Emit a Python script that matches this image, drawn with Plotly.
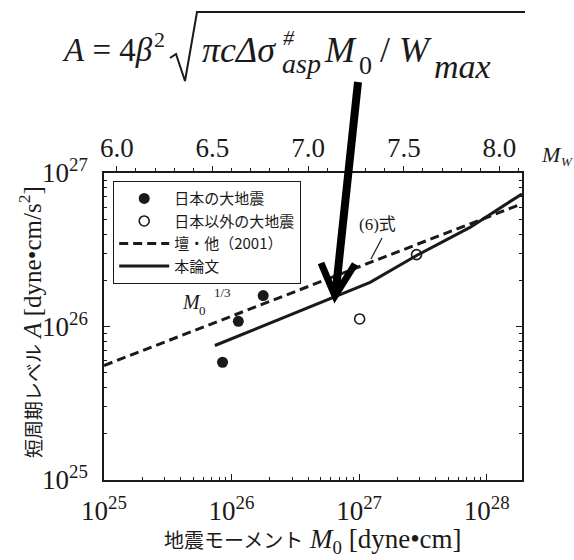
import plotly.graph_objects as go

# ---------------- data ----------------
japan_m0 = [8.5e25, 1.13e26, 1.77e26]          # 日本の大地震 (filled)
japan_a = [5.85e25, 1.08e26, 1.59e26]
foreign_m0 = [1.01e27, 2.82e27]                # 日本以外の大地震 (open)
foreign_a = [1.12e26, 2.94e26]
dan_m0 = [1.0e25, 1.89e28]                     # 壇・他 (2001) dashed
dan_a = [5.57e25, 6.3e26]
this_m0 = [7.4e25, 6.24e26, 1.22e27, 2.82e27, 7.40e27, 1.89e28]   # 本論文 solid
this_a = [7.52e25, 1.55e26, 1.94e26, 2.90e26, 4.42e26, 7.31e26]

legend_names = ["日本の大地震", "日本以外の大地震", "壇・他（2001）", "本論文"]

x_major = [1e25, 1e26, 1e27, 1e28]
x_major_text = ["10<sup>25</sup>", "10<sup>26</sup>", "10<sup>27</sup>", "10<sup>28</sup>"]
y_major = [1e25, 1e26, 1e27]
y_major_text = ["10<sup>25</sup>", "10<sup>26</sup>", "10<sup>27</sup>"]
mw_ticks = [6.0, 6.5, 7.0, 7.5, 8.0]
mw_text = ["6.0", "6.5", "7.0", "7.5", "8.0"]

LOG_X_RANGE = [25.0, 28.277]
LOG_Y_RANGE = [25.0, 27.0]

minor_x = [k * 10.0 ** e for e in range(25, 29) for k in range(2, 10)]
minor_y = [k * 10.0 ** e for e in range(25, 27) for k in range(2, 10)]

SERIF = "Liberation Serif, Noto Sans CJK JP, serif"
CJK = "Noto Sans CJK JP, sans-serif"
INK = "#1a1a1a"

# ---------------- layout geometry (pixels) ----------------
W_FIG, H_FIG = 574, 560
L, R, T, B = 104, 522, 173, 480
PW, PH = R - L, B - T


def px(x):
    return (x - L) / PW


def py(y):
    return (B - y) / PH


fig = go.Figure()

fig.add_trace(go.Scatter(
    x=japan_m0, y=japan_a, mode="markers", name=legend_names[0],
    marker=dict(symbol="circle", size=11, color=INK),
))
fig.add_trace(go.Scatter(
    x=foreign_m0, y=foreign_a, mode="markers", name=legend_names[1],
    marker=dict(symbol="circle-open", size=10, color=INK, line=dict(width=1.6, color=INK)),
))
fig.add_trace(go.Scatter(
    x=dan_m0, y=dan_a, mode="lines", name=legend_names[2],
    line=dict(color=INK, width=3, dash="9px,5px"),
))
fig.add_trace(go.Scatter(
    x=this_m0, y=this_a, mode="lines", name=legend_names[3],
    line=dict(color=INK, width=3),
))
# helper trace to carry the top Mw axis
fig.add_trace(go.Scatter(
    x=[mw_ticks[0]], y=[None], xaxis="x2", mode="markers",
    showlegend=False, hoverinfo="skip",
))

tick_font = dict(family=SERIF, size=27, color=INK)

fig.update_layout(
    width=W_FIG, height=H_FIG,
    margin=dict(l=L, r=W_FIG - R, t=T, b=H_FIG - B, pad=0),
    paper_bgcolor="white", plot_bgcolor="white",
    showlegend=True,
    legend=dict(
        x=px(113), y=py(181), xanchor="left", yanchor="top",
        bgcolor="white", bordercolor=INK, borderwidth=1.2,
        font=dict(family=CJK, size=15, color=INK),
        itemwidth=50, tracegroupgap=0,
    ),
    xaxis=dict(
        type="log", range=LOG_X_RANGE,
        tickmode="array", tickvals=x_major, ticktext=x_major_text,
        ticks="inside", ticklen=6, tickwidth=1, tickcolor=INK,
        minor=dict(tickmode="array", tickvals=minor_x, ticks="inside", ticklen=3, tickcolor=INK),
        showline=True, linecolor=INK, linewidth=1.5, mirror=True,
        showgrid=False, zeroline=False, tickfont=tick_font,
        ticklabelstandoff=6,
    ),
    xaxis2=dict(
        overlaying="x", side="top", anchor="y",
        range=[(LOG_X_RANGE[0] - 16.1) / 1.5, (LOG_X_RANGE[1] - 16.1) / 1.5],
        tickmode="array", tickvals=mw_ticks, ticktext=mw_text,
        ticks="outside", ticklen=5, tickwidth=1, tickcolor=INK,
        minor=dict(dtick=0.1, ticks="outside", ticklen=3, tickcolor=INK),
        showline=True, linecolor=INK, linewidth=1.5,
        showgrid=False, zeroline=False, tickfont=tick_font,
        ticklabelstandoff=-2,
    ),
    yaxis=dict(
        type="log", range=LOG_Y_RANGE,
        tickmode="array", tickvals=y_major, ticktext=y_major_text,
        ticks="inside", ticklen=6, tickwidth=1, tickcolor=INK,
        minor=dict(tickmode="array", tickvals=minor_y, ticks="inside", ticklen=3, tickcolor=INK),
        showline=True, linecolor=INK, linewidth=1.5, mirror="ticks",
        showgrid=False, zeroline=False, tickfont=tick_font,
        ticklabelstandoff=9,
    ),
)

ann = []


def text(x, y, s, size, family=SERIF, xanchor="left", yanchor="middle", angle=0):
    ann.append(dict(
        x=px(x), y=py(y), xref="paper", yref="paper", text=s, showarrow=False,
        xanchor=xanchor, yanchor=yanchor, textangle=angle,
        font=dict(family=family, size=size, color=INK),
    ))


# ---- formula above the chart ----
text(60, 50, "<i>A</i> = 4<i>β</i>", 33)
text(152, 39, "2", 22)
text(200, 50, "<i>πcΔσ</i>", 36)
text(281, 37, "<i>#</i>", 22)
text(280, 63, "<i>asp</i>", 28)
text(322, 50, "<i>M</i>", 36)
text(357, 65, "0", 26)
text(378, 50, "/ <i>W</i>", 36)
text(432, 66, "<i>max</i>", 34)

# ---- axis titles ----
text(313, 541,
     '<span style="font-family:Noto Sans CJK JP;font-size:20px">地震モーメント</span> '
     '<i>M</i><sub>0</sub> [dyne•cm]', 27, xanchor="center")
text(30, 322,
     '<span style="font-family:Noto Sans CJK JP;font-size:19px">短周期レベル</span> '
     '<i>A</i> [dyne•cm/s<sup>2</sup>]', 25, xanchor="center", angle=-90)

# ---- M_W label on top axis ----
text(539, 154, "<i>M</i>", 22)
text(559, 161, "<i>W</i>", 13)

# ---- in-plot labels ----
text(377, 222, '(6)<span style="font-family:Noto Sans CJK JP">式</span>', 17, xanchor="center")
text(180, 302, "<i>M</i>", 20)
text(197, 310, "0", 13)
text(212, 292, "1/3", 13)

fig.update_layout(annotations=ann)

# ---- decorations: sqrt sign, leader line, big arrow ----
shapes = []
shapes.append(dict(
    type="path", xref="paper", yref="paper",
    path=f"M {px(170)} {py(58)} L {px(176)} {py(54)} L {px(185)} {py(81)} L {px(197)} {py(12)} L {px(525)} {py(12)}",
    line=dict(color=INK, width=2),
))
shapes.append(dict(
    type="line", xref="paper", yref="paper",
    x0=px(382), y0=py(238), x1=px(371), y1=py(259),
    line=dict(color=INK, width=1.2),
))
shapes.append(dict(
    type="line", xref="paper", yref="paper",
    x0=px(358), y0=py(82), x1=px(336), y1=py(289),
    line=dict(color="black", width=8),
))
shapes.append(dict(
    type="path", xref="paper", yref="paper",
    path=f"M {px(321)} {py(263)} L {px(335)} {py(296)} L {px(355)} {py(264)}",
    line=dict(color="black", width=7),
))
fig.update_layout(shapes=shapes)

fig.write_html("out.html")
